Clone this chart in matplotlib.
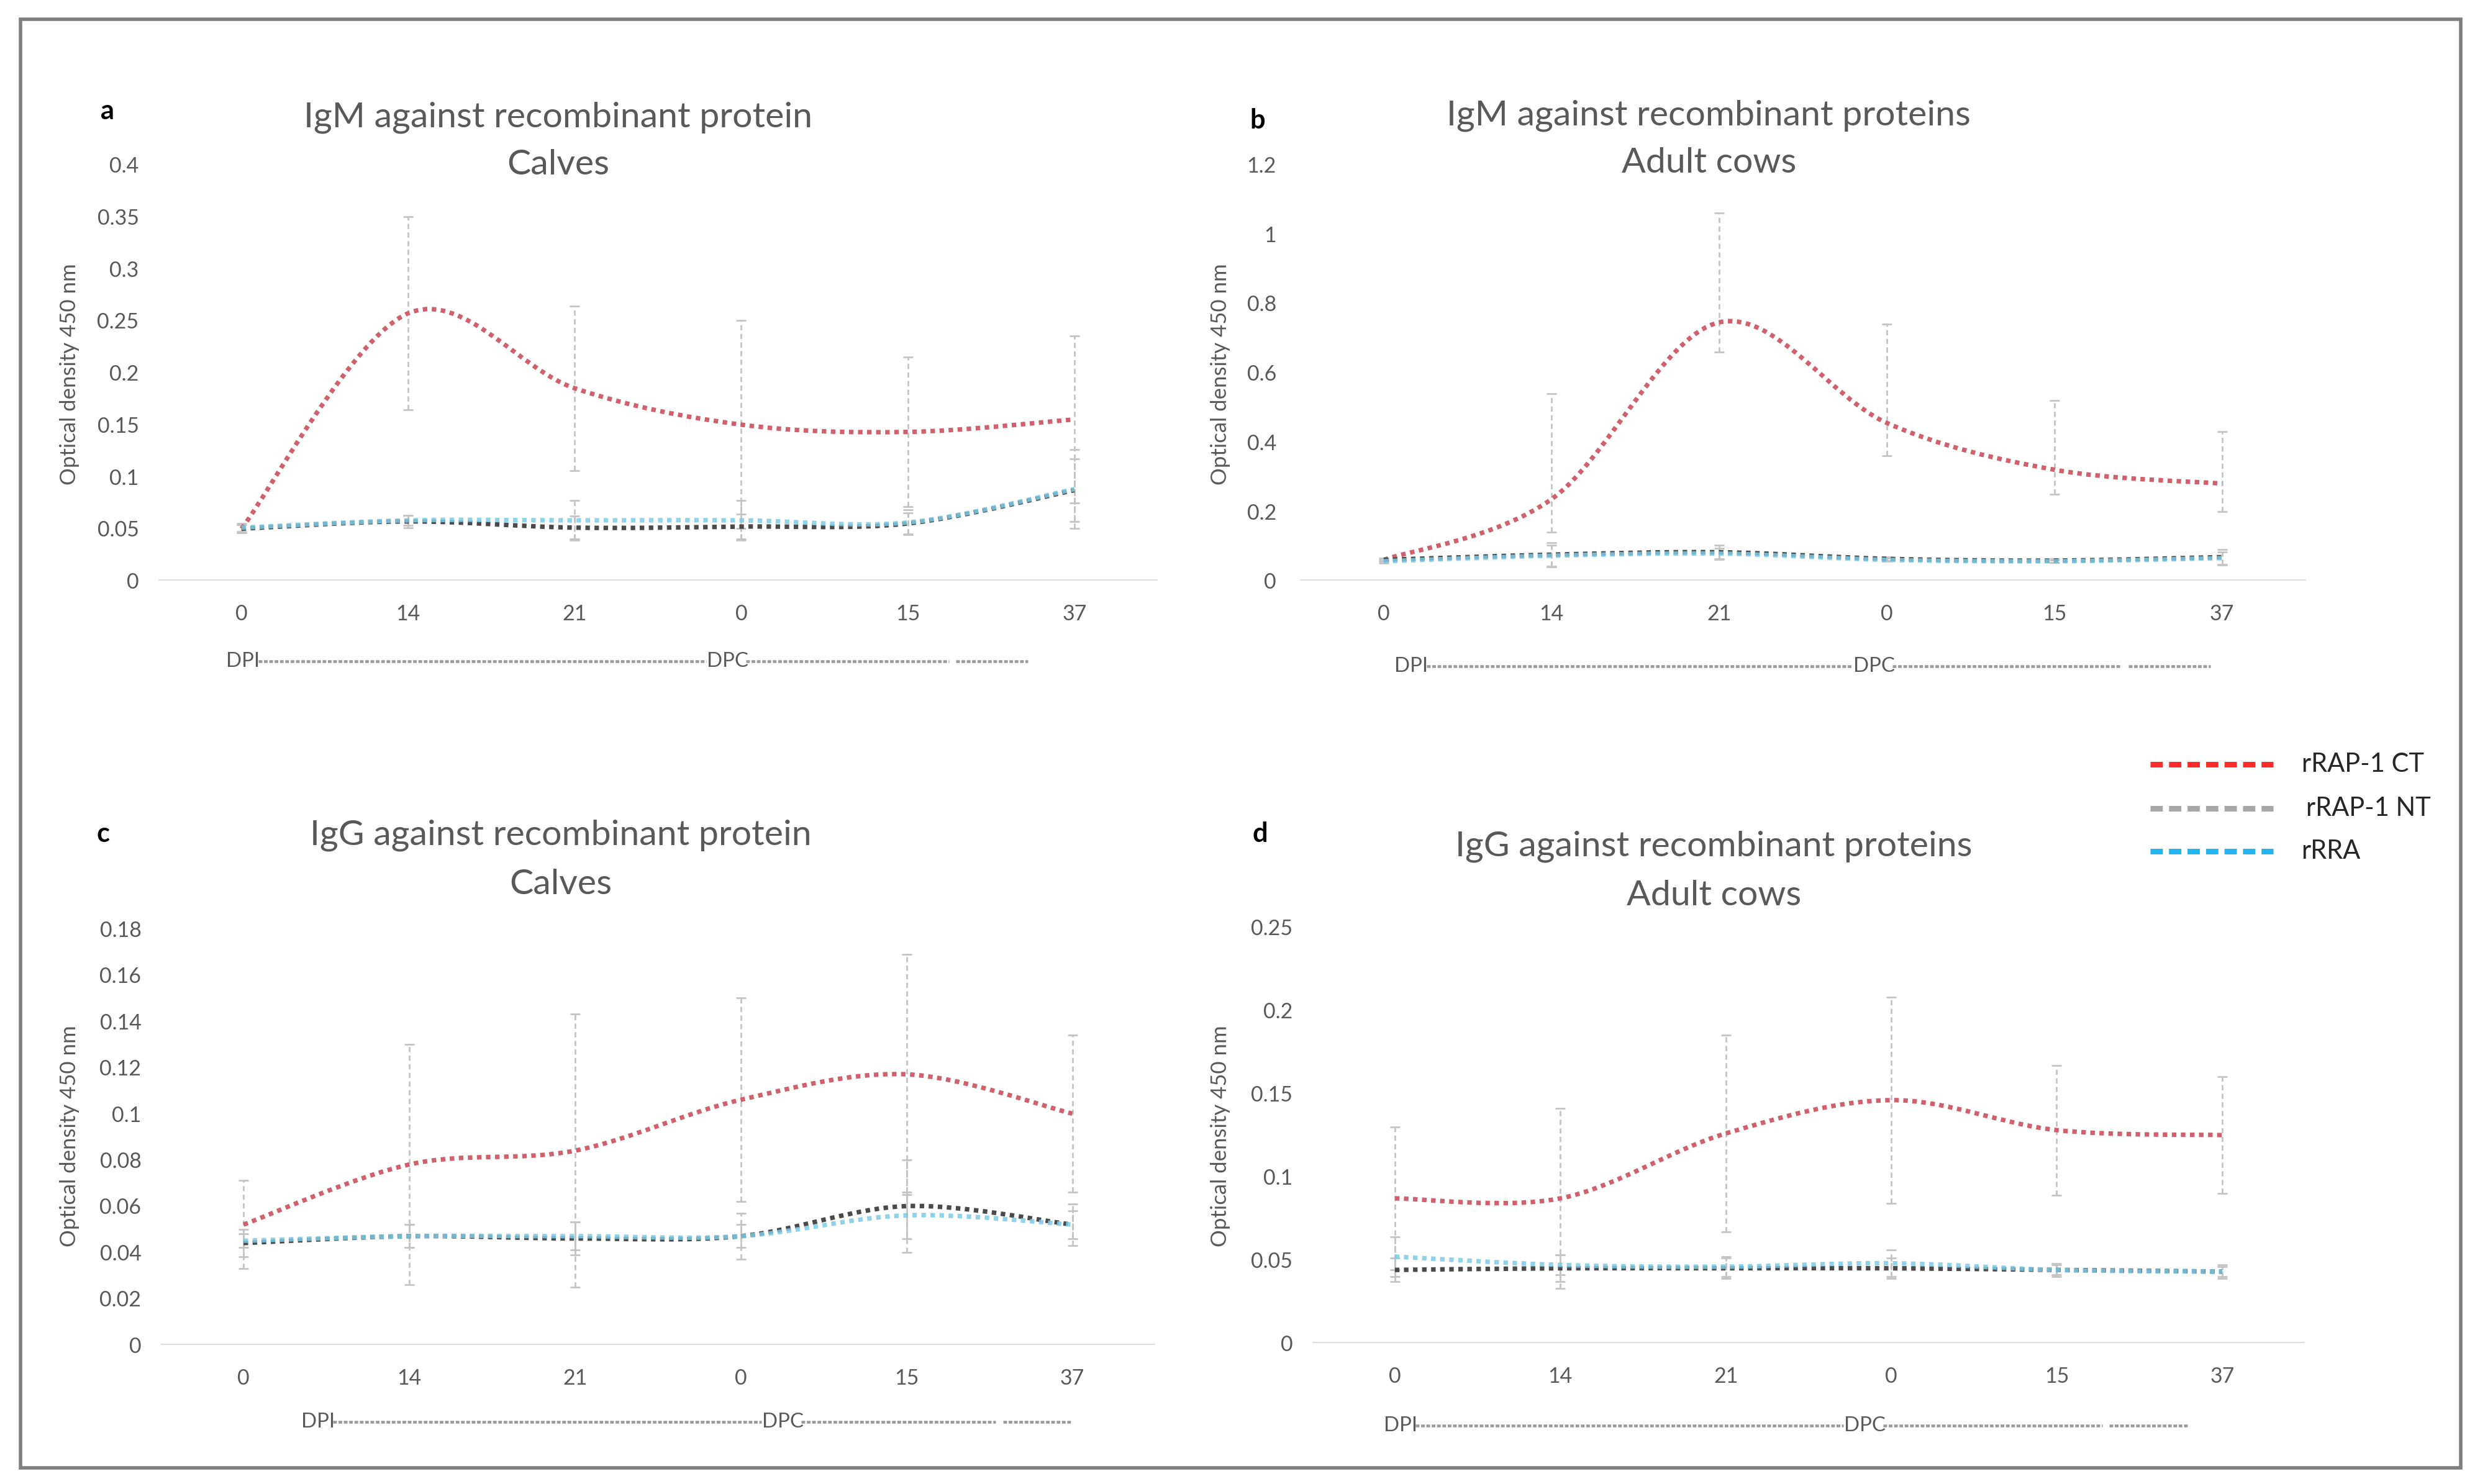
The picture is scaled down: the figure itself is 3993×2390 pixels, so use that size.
import numpy as np
import matplotlib.pyplot as plt
from matplotlib.path import Path
from matplotlib.patches import PathPatch, Rectangle
from matplotlib.lines import Line2D
from matplotlib.ticker import FuncFormatter

plt.rcParams["font.family"] = ["Lato", "DejaVu Sans"]

days = ["0", "14", "21", "0", "15", "37"]
series_names = ["rRAP-1 CT", "rRAP-1 NT", "rRRA"]

# a: IgM, calves
ct_a = [0.050, 0.257, 0.185, 0.150, 0.143, 0.155]
ct_a_err = [0.004, 0.093, 0.079, 0.100, 0.072, 0.080]
nt_a = [0.050, 0.057, 0.051, 0.052, 0.055, 0.087]
nt_a_err = [0.004, 0.006, 0.011, 0.012, 0.010, 0.030]
rra_a = [0.051, 0.058, 0.058, 0.058, 0.056, 0.088]
rra_a_err = [0.004, 0.005, 0.019, 0.019, 0.012, 0.038]

# b: IgM, adult cows (CT bars are not symmetric)
ct_b = [0.060, 0.235, 0.745, 0.455, 0.320, 0.280]
ct_b_lo = [0.005, 0.095, 0.085, 0.095, 0.070, 0.080]
ct_b_hi = [0.005, 0.305, 0.315, 0.285, 0.200, 0.150]
nt_b = [0.060, 0.075, 0.082, 0.063, 0.058, 0.068]
nt_b_err = [0.005, 0.035, 0.020, 0.006, 0.005, 0.022]
rra_b = [0.056, 0.072, 0.078, 0.060, 0.056, 0.065]
rra_b_err = [0.005, 0.030, 0.015, 0.005, 0.004, 0.018]

# c: IgG, calves
ct_c = [0.052, 0.078, 0.084, 0.106, 0.117, 0.100]
ct_c_err = [0.019, 0.052, 0.059, 0.044, 0.052, 0.034]
nt_c = [0.044, 0.047, 0.046, 0.047, 0.060, 0.052]
nt_c_err = [0.006, 0.005, 0.007, 0.010, 0.020, 0.009]
rra_c = [0.045, 0.047, 0.047, 0.047, 0.056, 0.052]
rra_c_err = [0.003, 0.005, 0.006, 0.005, 0.010, 0.006]

# d: IgG, adult cows
ct_d = [0.087, 0.087, 0.126, 0.146, 0.128, 0.125]
ct_d_err = [0.043, 0.054, 0.059, 0.062, 0.039, 0.035]
nt_d = [0.044, 0.045, 0.045, 0.045, 0.044, 0.043]
nt_d_err = [0.007, 0.008, 0.006, 0.006, 0.003, 0.004]
rra_d = [0.052, 0.047, 0.046, 0.048, 0.044, 0.043]
rra_d_err = [0.012, 0.006, 0.006, 0.008, 0.004, 0.003]

line_colors = ["#d0606c", "#4a4a4a", "#7ccbe6"]
legend_colors = ["#ff2a2a", "#a6a6a6", "#22b4ef"]
text_gray = "#595959"


def smooth_path(x, y):
    # Excel-style smoothed line: cubic Bezier segments through the points
    pts = np.column_stack([x, y]).astype(float)
    n = len(pts)
    verts = [pts[0]]
    codes = [Path.MOVETO]
    for i in range(n - 1):
        p0 = pts[i - 1] if i > 0 else pts[i]
        p1 = pts[i]
        p2 = pts[i + 1]
        p3 = pts[i + 2] if i + 2 < n else pts[i + 1]
        verts += [p1 + (p2 - p0) / 6, p2 - (p3 - p1) / 6, p2]
        codes += [Path.CURVE4] * 3
    return Path(verts, codes)


def draw_panel(ax, values, errors, ymax, ystep, tick_pad):
    x = np.arange(len(days))
    for vals, err in zip(values, errors):
        eb = ax.errorbar(x, vals, yerr=err, fmt="none", ecolor="#c4c4c4",
                         elinewidth=0.8, capsize=2.2, capthick=0.8, zorder=2)
        eb[2][0].set_linestyle((0, (3, 2)))
    for i in [1, 2, 0]:
        patch = PathPatch(smooth_path(x, values[i]), fill=False,
                          edgecolor=line_colors[i], lw=2.1,
                          linestyle=(0, (1, 1)), capstyle="butt",
                          alpha=0.85 if i == 2 else 1.0, zorder=3 + i)
        ax.add_patch(patch)

    ax.set_xlim(-0.5, len(days) - 0.5)
    ax.set_ylim(0, ymax)
    ax.set_xticks(x)
    ax.set_xticklabels(days)
    ax.set_yticks(np.arange(0, ymax + ystep / 2, ystep))
    ax.yaxis.set_major_formatter(FuncFormatter(lambda v, p: f"{v:g}"))
    ax.axhline(0, color="#d9d9d9", lw=1.3, zorder=1)
    for s in ax.spines.values():
        s.set_visible(False)
    ax.tick_params(axis="both", length=0, labelsize=9.8, colors=text_gray)
    ax.tick_params(axis="y", pad=tick_pad)
    ax.tick_params(axis="x", pad=11)


def day_marks(ax, y, x_dpi, x_dpc, x_end):
    kw = dict(transform=ax.transAxes, fontsize=9.5, color=text_gray,
              va="center", ha="left")
    ax.text(x_dpi, y, "DPI", **kw)
    ax.text(x_dpc, y, "DPC", **kw)
    lk = dict(transform=ax.transAxes, color="#9a9a9a", lw=1.3,
              linestyle=(0, (1.3, 0.6)), clip_on=False)
    after_dpc = x_dpc + 0.039
    gap = after_dpc + (x_end - after_dpc) * 0.72
    ax.add_line(Line2D([x_dpi + 0.032, x_dpc - 0.001], [y, y], **lk))
    ax.add_line(Line2D([after_dpc, gap], [y, y], **lk))
    ax.add_line(Line2D([gap + 0.007, x_end], [y, y], **lk))


fig = plt.figure(figsize=(15.972, 9.56), dpi=250)

ax_a = fig.add_axes([0.0638, 0.6087, 0.4030, 0.2804])
ax_b = fig.add_axes([0.5242, 0.6087, 0.4056, 0.2804])
ax_c = fig.add_axes([0.0648, 0.0938, 0.4010, 0.2804])
ax_d = fig.add_axes([0.5291, 0.0949, 0.4003, 0.2804])

draw_panel(ax_a, [ct_a, nt_a, rra_a], [ct_a_err, nt_a_err, rra_a_err], 0.4, 0.05, 9)
draw_panel(ax_b, [ct_b, nt_b, rra_b], [[ct_b_lo, ct_b_hi], nt_b_err, rra_b_err], 1.2, 0.2, 11)
draw_panel(ax_c, [ct_c, nt_c, rra_c], [ct_c_err, nt_c_err, rra_c_err], 0.18, 0.02, 9)
draw_panel(ax_d, [ct_d, nt_d, rra_d], [ct_d_err, nt_d_err, rra_d_err], 0.25, 0.05, 9)

day_marks(ax_a, -0.194, 0.068, 0.549, 0.870)
day_marks(ax_b, -0.205, 0.094, 0.550, 0.905)
day_marks(ax_c, -0.186, 0.141, 0.605, 0.916)
day_marks(ax_d, -0.198, 0.072, 0.536, 0.882)

# titles (two lines each), panel letters, y labels
titles = [
    (0.225, 0.921, 0.889, "IgM against recombinant protein", "Calves"),
    (0.689, 0.922, 0.890, "IgM against recombinant proteins", "Adult cows"),
    (0.226, 0.437, 0.404, "IgG against recombinant protein", "Calves"),
    (0.691, 0.4296, 0.3966, "IgG against recombinant proteins", "Adult cows"),
]
for tx, ty1, ty2, line1, line2 in titles:
    fig.text(tx, ty1, line1, ha="center", va="center", fontsize=16.5,
             color=text_gray)
    fig.text(tx, ty2, line2, ha="center", va="center", fontsize=16.5,
             color=text_gray)

for lx, ly, letter in [(0.0434, 0.925, "a"), (0.507, 0.919, "b"),
                       (0.0415, 0.438, "c"), (0.508, 0.438, "d")]:
    fig.text(lx, ly, letter, ha="center", va="center", fontsize=12.5,
             fontweight="bold", color="black")

for yx, yy in [(0.028, 0.748), (0.492, 0.748), (0.028, 0.2345), (0.492, 0.2345)]:
    fig.text(yx, yy, "Optical density 450 nm", rotation=90, ha="center",
             va="center", fontsize=10, color=text_gray)

# legend at the right
leg_y = [0.4851, 0.4552, 0.4264]
leg_tx = [0.928, 0.930, 0.928]
for name, c, ly, lx in zip(series_names, legend_colors, leg_y, leg_tx):
    fig.add_artist(Line2D([0.867, 0.9165], [ly, ly], color=c, lw=2.6,
                          linestyle=(0, (2.2, 1.1)), transform=fig.transFigure))
    fig.text(lx, ly, name, ha="left", va="center", fontsize=12, color="#262626")

# outer frame
fig.add_artist(Rectangle((0.0083, 0.0107), 0.9840, 0.9763, fill=False,
                         edgecolor="#7f7f7f", lw=1.6, transform=fig.transFigure))

fig.savefig("out.png", dpi=250, facecolor="white")
